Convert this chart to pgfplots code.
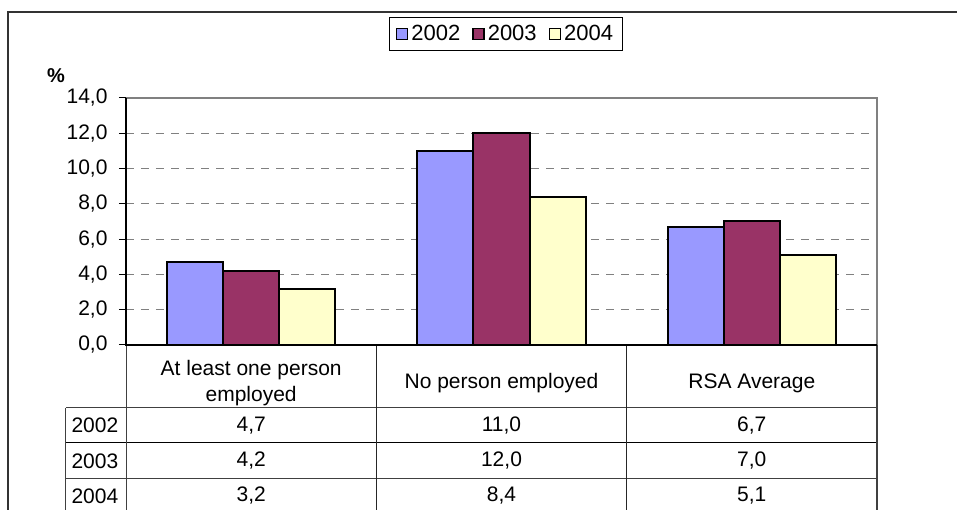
\documentclass[border=0pt]{standalone}
\usepackage{fontspec}
\setmainfont{Liberation Sans}
\usepackage{pgfplots}
\pgfplotsset{compat=1.18}
\definecolor{cA}{HTML}{9999FF}
\definecolor{cB}{HTML}{993366}
\definecolor{cC}{HTML}{FFFFCC}
\definecolor{gridgray}{HTML}{808080}
\pgfplotsset{sqlegend/.style={legend image code/.code={\draw[##1, line width=1.5pt] (0pt,-5.5pt) rectangle (11pt,5.5pt);}}}
\begin{document}
\begin{tikzpicture}[font=\fontsize{21}{26}\selectfont]
\useasboundingbox (-126pt,-165pt) rectangle (831pt,345pt);
\begin{axis}[
  at={(0pt,0pt)}, anchor=south west,
  scale only axis, width=751pt, height=247pt,
  xmin=-0.5, xmax=2.5, ymin=0, ymax=14,
  xtick={0,1,2},
  xticklabels={{At least one person\\employed},{No person employed},{RSA Average}},
  xtick style={draw=none},
  xticklabel style={anchor=center, yshift=-31.5pt, align=center, font=\fontsize{21}{26}\selectfont},
  ytick={0,2,4,6,8,10,12,14},
  ytick pos=left,
  tick align=outside, major tick length=7pt,
  ytick style={black, line width=1pt},
  yticklabel style={xshift=-8pt, font=\fontsize{21}{24}\selectfont, /pgf/number format/.cd, fixed, fixed zerofill, precision=1, use comma, assume math mode=true},
  ymajorgrids, grid style={gridgray, line width=1.2pt, dash pattern=on 8pt off 7pt},
  axis line style={draw=none},
  ybar, bar width=0.224,
  legend columns=3,
  legend style={at={(0.506,1.259)}, anchor=center, draw=black, line width=1.2pt,
    font=\fontsize{22}{24}\selectfont, inner xsep=6pt, inner ysep=6pt,
    nodes={inner xsep=3pt},
    /tikz/every even column/.append style={column sep=9pt}},
  clip=false,
]
\addplot[bar shift=-0.224, fill=cA, draw=black, line width=2pt, sqlegend] coordinates {(0,4.7) (1,11.0) (2,6.7)};
\addplot[bar shift=0, fill=cB, draw=black, line width=2pt, sqlegend] coordinates {(0,4.2) (1,12.0) (2,7.0)};
\addplot[bar shift=0.224, fill=cC, draw=black, line width=2pt, sqlegend] coordinates {(0,3.2) (1,8.4) (2,5.1)};
\legend{2002,2003,2004}
\end{axis}
% plot area frame
\draw[gridgray, line width=2.5pt] (0pt,247pt) -- (751pt,247pt) -- (751pt,0pt);
% data table
\draw[black!75, line width=1pt] (-60pt,-63pt) -- (751pt,-63pt);
\draw[black, line width=1pt] (-60pt,-98pt) -- (751pt,-98pt);
\draw[black!75, line width=1pt] (-60pt,-134pt) -- (751pt,-134pt);
\draw[black!75, line width=1pt] (-60pt,-63pt) -- (-60pt,-170pt);
\draw[black!75, line width=1pt] (0pt,0pt) -- (0pt,-170pt);
\draw[black!85, line width=1pt] (250.3pt,0pt) -- (250.3pt,-170pt);
\draw[black!85, line width=1pt] (500.7pt,0pt) -- (500.7pt,-170pt);
\draw[black!75, line width=1.2pt] (751pt,0pt) -- (751pt,-170pt);
\draw[black, line width=1.8pt] (0pt,247pt) -- (0pt,0pt) -- (751pt,0pt);
\node[anchor=west] at (-58pt,-80.5pt) {2002};
\node[anchor=west] at (-58pt,-116pt) {2003};
\node[anchor=west] at (-58pt,-151pt) {2004};
\node at (125.2pt,-80.5pt) {4,7};
\node at (375.5pt,-80.5pt) {11,0};
\node at (625.8pt,-80.5pt) {6,7};
\node at (125.2pt,-116pt) {4,2};
\node at (375.5pt,-116pt) {12,0};
\node at (625.8pt,-116pt) {7,0};
\node at (125.2pt,-151pt) {3,2};
\node at (375.5pt,-151pt) {8,4};
\node at (625.8pt,-151pt) {5,1};
% percent label
\node[font=\bfseries\fontsize{20}{24}\selectfont] at (-70pt,269pt) {\%};
% outer chart frame
\draw[black!80, line width=2pt] (-118pt,-170pt) -- (-118pt,333pt) -- (840pt,333pt);
\end{tikzpicture}
\end{document}
